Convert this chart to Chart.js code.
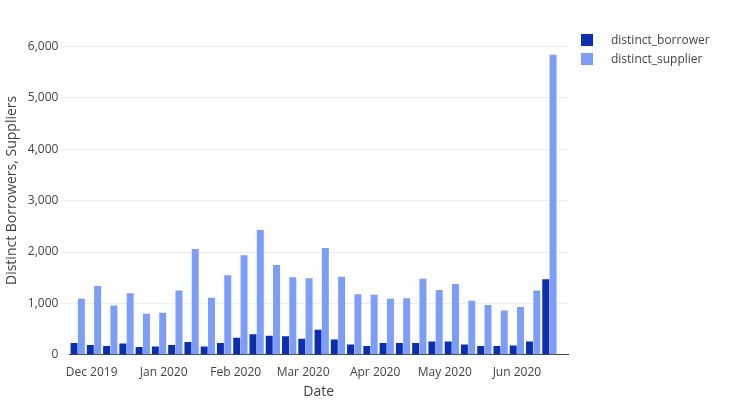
<!DOCTYPE html>
<html>
<head>
<meta charset="utf-8">
<script src="https://cdn.jsdelivr.net/npm/chart.js@4"></script>
<style>
  body { margin: 0; background: #fff; font-family: "Open Sans", sans-serif; }
  #wrap { position: relative; width: 729px; height: 400px; }
  #legend { position: absolute; left: 581px; top: 30px; font-size: 12px; color: #444; }
  .item { display: flex; align-items: center; height: 19px; }
  .sw { width: 12px; height: 12px; margin-right: 18px; }
</style>
</head>
<body>
<div id="wrap">
  <canvas id="c" width="729" height="400"></canvas>
  <div id="legend">
    <div class="item"><span class="sw" style="background:#0b2fb3"></span>distinct_borrower</div>
    <div class="item"><span class="sw" style="background:#7b9dfd"></span>distinct_supplier</div>
  </div>
</div>
<script>
// days relative to 1 Dec 2019, weekly starting 25 Nov 2019
const weekDays = [];
for (let i = 0; i < 30; i++) weekDays.push(-6 + 7 * i);
const borrowers = [230, 190, 170, 220, 150, 160, 190, 250, 160, 230, 330, 400, 370, 360, 310, 490, 300, 200, 170, 230, 230, 230, 260, 260, 200, 170, 170, 180, 260, 1470];
const suppliers = [1090, 1340, 960, 1200, 800, 820, 1250, 2060, 1110, 1550, 1940, 2430, 1750, 1510, 1490, 2080, 1520, 1180, 1170, 1090, 1100, 1480, 1260, 1380, 1050, 970, 860, 930, 1250, 5840];
const monthTicks = [0, 31, 62, 91, 122, 152, 183];
const monthLabels = ['Dec 2019', 'Jan 2020', 'Feb 2020', 'Mar 2020', 'Apr 2020', 'May 2020', 'Jun 2020'];

const pts = arr => arr.map((v, i) => ({ x: weekDays[i], y: v }));

new Chart(document.getElementById('c'), {
  type: 'bar',
  data: {
    datasets: [
      { label: 'distinct_borrower', data: pts(borrowers), backgroundColor: '#0b2fb3', barPercentage: 0.95, categoryPercentage: 0.9 },
      { label: 'distinct_supplier', data: pts(suppliers), backgroundColor: '#7b9dfd', barPercentage: 0.95, categoryPercentage: 0.9 }
    ]
  },
  options: {
    responsive: false,
    animation: false,
    layout: { padding: { left: 0, right: 161, top: 26, bottom: 0 } },
    plugins: { legend: { display: false }, tooltip: { enabled: false } },
    scales: {
      x: {
        type: 'linear', min: -9.6, max: 205, offset: false,
        grid: { display: false },
        border: { color: '#444' },
        afterBuildTicks: ax => { ax.ticks = monthTicks.map(v => ({ value: v })); },
        ticks: { color: '#444', font: { size: 12, family: 'Open Sans' }, maxRotation: 0,
          callback: v => monthLabels[monthTicks.indexOf(v)] },
        title: { display: true, text: 'Date', color: '#444', font: { size: 14, family: 'Open Sans' }, padding: 0 }
      },
      y: {
        min: 0, max: 6400,
        afterBuildTicks: ax => { ax.ticks = [0, 1000, 2000, 3000, 4000, 5000, 6000].map(v => ({ value: v })); },
        grid: { color: '#eee' },
        border: { display: false },
        ticks: { color: '#444', font: { size: 12, family: 'Open Sans' } },
        title: { display: true, text: 'Distinct Borrowers, Suppliers', color: '#444', font: { size: 14, family: 'Open Sans' } }
      }
    }
  }
});
</script>
</body>
</html>
